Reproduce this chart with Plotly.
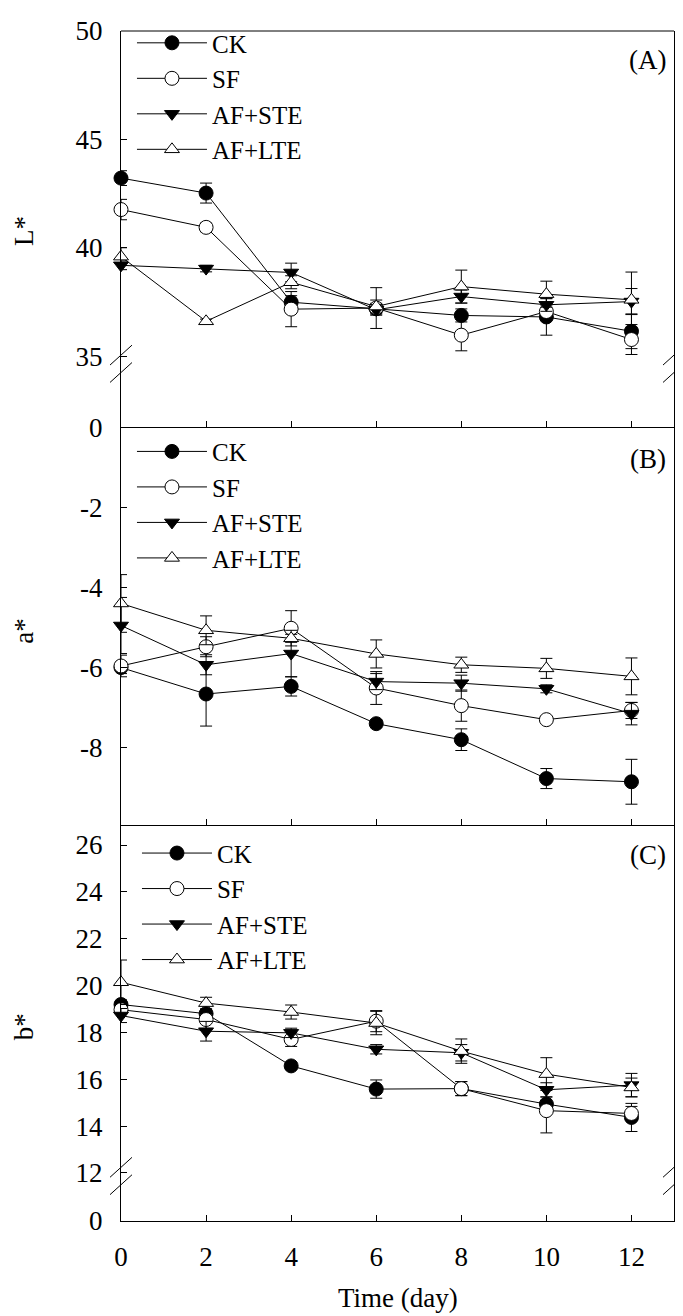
import plotly.graph_objects as go

# ---------------- data ----------------
days = [0, 2, 4, 6, 8, 10, 12]
series_names = ["CK", "SF", "AF+STE", "AF+LTE"]

L_CK = [43.22, 42.53, 37.50, 37.20, 36.89, 36.82, 36.16]
L_CK_err = [0.34, 0.46, 0.30, 0.25, 0.30, 0.84, 0.80]
L_SF = [41.77, 40.95, 37.18, 37.23, 35.98, 37.07, 35.78]
L_SF_err = [0.47, 0.20, 0.81, 0.94, 0.72, 0.30, 0.69]
L_STE = [39.20, 39.05, 38.87, 37.15, 37.76, 37.38, 37.53]
L_STE_err = [0.20, 0.15, 0.43, 0.25, 0.30, 0.30, 0.60]
L_LTE = [39.60, 36.62, 38.42, 37.30, 38.22, 37.87, 37.61]
L_LTE_err = [0.41, 0.10, 0.30, 0.30, 0.76, 0.60, 1.28]

a_CK = [-6.00, -6.66, -6.47, -7.40, -7.80, -8.77, -8.85]
a_CK_err = [0.15, 0.80, 0.24, 0.10, 0.27, 0.25, 0.56]
a_SF = [-5.96, -5.48, -5.02, -6.51, -6.95, -7.30, -7.07]
a_SF_err = [0.27, 0.25, 0.44, 0.41, 0.39, 0.08, 0.20]
a_STE = [-4.95, -5.93, -5.65, -6.35, -6.39, -6.53, -7.15]
a_STE_err = [0.70, 0.25, 0.58, 0.20, 0.20, 0.10, 0.28]
a_LTE = [-4.40, -5.07, -5.27, -5.66, -5.93, -6.02, -6.22]
a_LTE_err = [0.72, 0.36, 0.10, 0.35, 0.19, 0.25, 0.46]

b_CK = [19.19, 18.80, 16.57, 15.58, 15.60, 14.94, 14.37]
b_CK_err = [0.20, 0.20, 0.15, 0.39, 0.30, 0.30, 0.60]
b_SF = [18.97, 18.55, 17.70, 18.48, 15.60, 14.66, 14.54]
b_SF_err = [0.15, 0.40, 0.30, 0.45, 0.30, 0.95, 0.30]
b_STE = [18.72, 18.05, 17.98, 17.28, 17.13, 15.55, 15.75]
b_STE_err = [0.30, 0.42, 0.20, 0.20, 0.35, 0.30, 0.50]
b_LTE = [20.14, 19.25, 18.87, 18.40, 17.20, 16.22, 15.65]
b_LTE_err = [0.95, 0.25, 0.30, 0.50, 0.52, 0.70, 0.40]

x_ticks = [0, 2, 4, 6, 8, 10, 12]
L_ticks = [35, 40, 45, 50]
a_ticks = [0, -2, -4, -6, -8]
b_ticks = [12, 14, 16, 18, 20, 22, 24, 26]

# ---------------- layout helpers ----------------
# the page body has an 8px margin, so figure coords = window coords - 8
OFF = 8
W, H = 675, 1308
ML, MR, MT, MB = 113, 8, 16, 95
PW, PH = W - ML - MR, H - MT - MB


def px_x(px):
    """window pixel x (as measured on the reference) -> paper fraction"""
    return (px - OFF - ML) / PW


def px_y(py):
    """window pixel y (as measured on the reference) -> paper fraction"""
    return (H - MB - (py - OFF)) / PH


FONT = "Liberation Serif"
FS = 26

styles = [
    dict(symbol="circle", size=14, color="black", line=dict(color="black", width=1)),
    dict(symbol="circle", size=14, color="white", line=dict(color="black", width=1)),
    dict(symbol="triangle-down", size=13, color="black", line=dict(color="black", width=1)),
    dict(symbol="triangle-up", size=13, color="white", line=dict(color="black", width=1)),
]

fig = go.Figure()

panels = [
    ("x", "y", "legend", [L_CK, L_SF, L_STE, L_LTE], [L_CK_err, L_SF_err, L_STE_err, L_LTE_err]),
    ("x2", "y3", "legend2", [a_CK, a_SF, a_STE, a_LTE], [a_CK_err, a_SF_err, a_STE_err, a_LTE_err]),
    ("x3", "y4", "legend3", [b_CK, b_SF, b_STE, b_LTE], [b_CK_err, b_SF_err, b_STE_err, b_LTE_err]),
]

for xa, ya, lg, vals, errs in panels:
    for name, v, e, st in zip(series_names, vals, errs, styles):
        fig.add_trace(go.Scatter(
            x=days, y=v, name=name, mode="lines+markers",
            xaxis=xa, yaxis=ya, legend=lg,
            line=dict(color="black", width=1),
            marker=st,
            error_y=dict(type="data", array=e, visible=True, color="black",
                         thickness=1, width=6),
            cliponaxis=False,
        ))

# empty placeholder traces so the lower (broken) axis segments get a subplot
for xa, ya in (("x", "y2"), ("x3", "y5")):
    fig.add_trace(go.Scatter(x=[None], y=[None], xaxis=xa, yaxis=ya,
                             showlegend=False, hoverinfo="skip", mode="markers"))

# domains (window-pixel positions measured from reference)
yA_top, yA_break, yA_bot = 24, 359, 422.5
yB_bot = 822.3
yC_break, yC_bot = 1176.2, 1221

common_x = dict(range=[0, 13], tickvals=x_ticks, ticks="inside", ticklen=6,
                tickcolor="black", showline=True, linecolor="black", linewidth=1,
                showgrid=False, zeroline=False, mirror=False,
                tickfont=dict(family=FONT, size=FS + 1, color="black"))
common_y = dict(ticks="inside", ticklen=6, tickcolor="black", showline=True,
                linecolor="black", linewidth=1, mirror=True, showgrid=False,
                zeroline=False, ticklabelstandoff=12,
                tickfont=dict(family=FONT, size=FS + 1, color="black"))

fig.update_layout(
    width=W, height=H,
    margin=dict(l=ML, r=MR, t=MT, b=MB),
    paper_bgcolor="white", plot_bgcolor="white",
    font=dict(family=FONT, size=FS, color="black"),
    xaxis=dict(common_x, domain=[0, 1], anchor="y2", showticklabels=False),
    xaxis2=dict(common_x, domain=[0, 1], anchor="y3", showticklabels=False),
    xaxis3=dict(common_x, domain=[0, 1], anchor="y5", showticklabels=True,
                ticklabelstandoff=12),
    yaxis=dict(common_y, domain=[px_y(yA_break), px_y(yA_top)], anchor="x",
               range=[34.65, 50], tickvals=L_ticks),
    yaxis2=dict(common_y, domain=[px_y(yA_bot), px_y(yA_break)], anchor="x",
                range=[0, 1], tickvals=[], showticklabels=False),
    yaxis3=dict(common_y, domain=[px_y(yB_bot), px_y(yA_bot)], anchor="x2",
                range=[-9.92, 0], tickvals=a_ticks,
                ticktext=[str(t) for t in a_ticks]),
    yaxis4=dict(common_y, domain=[px_y(yC_break), px_y(yB_bot)], anchor="x3",
                range=[11.85, 26.87], tickvals=b_ticks),
    yaxis5=dict(common_y, domain=[0, px_y(yC_break)], anchor="x3",
                range=[0, 1], tickvals=[0], ticktext=["0"]),
)

leg_common = dict(bgcolor="rgba(0,0,0,0)", borderwidth=0, xanchor="left",
                  yanchor="top", font=dict(family=FONT, size=25, color="black"),
                  tracegroupgap=0, itemwidth=70)
fig.update_layout(
    legend=dict(leg_common, x=px_x(132), y=px_y(13)),
    legend2=dict(leg_common, x=px_x(132), y=px_y(424)),
    legend3=dict(leg_common, x=px_x(137), y=px_y(828)),
)

shapes = []
# top frame line of panel A
shapes.append(dict(type="line", xref="paper", yref="paper", x0=0, x1=1,
                   y0=px_y(yA_top), y1=px_y(yA_top),
                   line=dict(color="black", width=1)))
# axis-break slashes
for cy in (350, 1167):
    for dy in (0, 17.5):
        for cx in (121, 675):
            shapes.append(dict(type="line", xref="paper", yref="paper",
                               x0=px_x(cx - 11), y0=px_y(cy + dy + 10),
                               x1=px_x(cx + 11), y1=px_y(cy + dy - 10),
                               line=dict(color="black", width=1)))
fig.update_layout(shapes=shapes)

ann = []
for txt, cy in (("L*", 225), ("a*", 628), ("b*", 1026)):
    ann.append(dict(text=txt, xref="paper", yref="paper", x=px_x(24), y=px_y(cy),
                    showarrow=False, textangle=-90, xanchor="center", yanchor="middle",
                    font=dict(family=FONT, size=FS + 1, color="black")))
for txt, cy in (("(A)", 53), ("(B)", 455), ("(C)", 853)):
    ann.append(dict(text=txt, xref="paper", yref="paper", x=px_x(669), y=px_y(cy),
                    showarrow=False, xanchor="right", yanchor="middle",
                    font=dict(family=FONT, size=FS + 1, color="black")))
ann.append(dict(text="Time (day)", xref="paper", yref="paper", x=px_x(398),
                y=px_y(1298), showarrow=False, xanchor="center", yanchor="middle",
                font=dict(family=FONT, size=FS + 1, color="black")))
fig.update_layout(annotations=ann)

fig.write_html("out.html")
